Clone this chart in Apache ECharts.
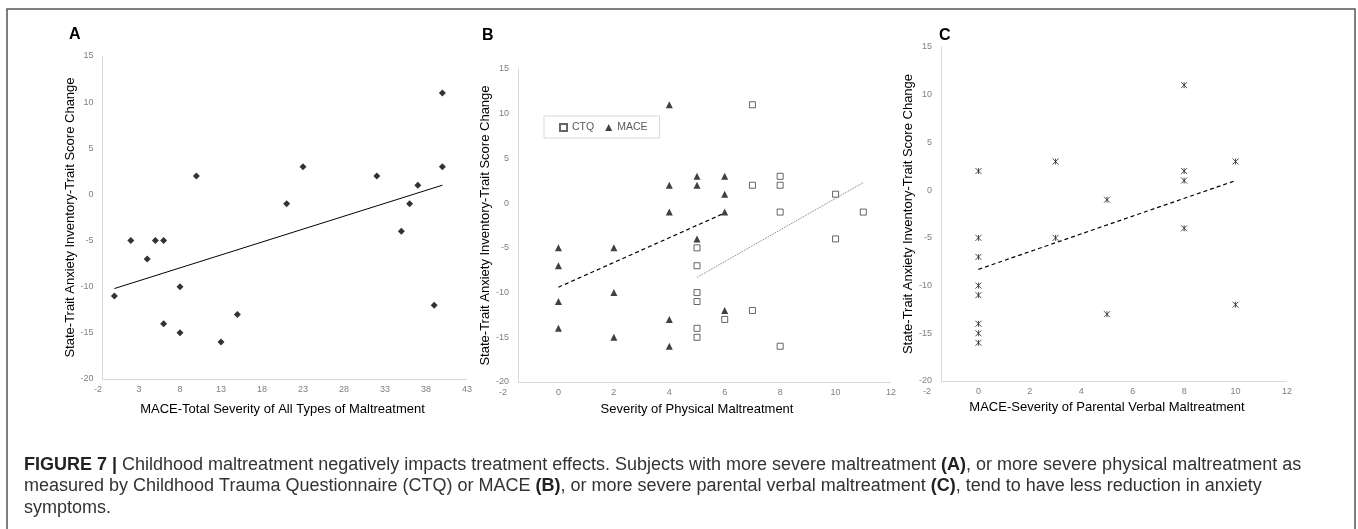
<!DOCTYPE html>
<html>
<head>
<meta charset="utf-8">
<script src="https://cdn.jsdelivr.net/npm/echarts@6/dist/echarts.min.js"></script>
<style>
  html, body { margin: 0; padding: 0; background: #fff; }
  #chart { width: 1358px; height: 529px; }
</style>
</head>
<body>
<div id="chart"></div>
<script>
// Panel A: MACE total severity vs STAI-trait change
const maceTotalX = [0, 2, 4, 5, 6, 6, 8, 8, 10, 13, 15, 21, 23, 32, 35, 36, 37, 39, 40, 40];
const staiA = [-11, -5, -7, -5, -5, -14, -10, -15, 2, -16, -13, -1, 3, 2, -4, -1, 1, -12, 11, 3];
const trendA = [[0, -10.2], [40, 1.0]];

// Panel B: physical maltreatment, CTQ and MACE
const ctqX = [5, 5, 5, 5, 5, 5, 6, 7, 7, 7, 8, 8, 8, 8, 10, 10, 11];
const ctqY = [-5, -7, -10, -11, -14, -15, -13, 11, 2, -12, 3, 2, -1, -16, 1, -4, -1];
const maceX = [0, 0, 0, 0, 2, 2, 2, 4, 4, 4, 4, 4, 5, 5, 5, 6, 6, 6, 6];
const maceY = [-5, -7, -11, -14, -5, -10, -15, 11, 2, -1, -13, -16, 3, 2, -4, 3, 1, -1, -12];
const trendMace = [[0, -9.4], [6, -1.1]];
const trendCtq = [[5, -8.3], [11, 2.3]];

// Panel C: parental verbal maltreatment
const verbalX = [0, 0, 0, 0, 0, 0, 0, 0, 3, 3, 5, 5, 8, 8, 8, 8, 10, 10];
const verbalY = [2, -5, -7, -10, -11, -14, -15, -16, 3, -5, -1, -13, 11, 2, 1, -4, 3, -12];
const trendC = [[0, -8.3], [10, 1.0]];

// axis ranges [min, max, interval]
const xRangeA = [-2, 43, 5];
const xRangeB = [-2, 12, 2];
const xRangeC = [-2, 12, 2];
const yRange = [-20, 15, 5];
const yAxisCross = -1.46; // where the vertical axis line sits on the x scale

const xTitles = [
  'MACE-Total Severity of All Types of Maltreatment',
  'Severity of Physical Maltreatment',
  'MACE-Severity of Parental Verbal Maltreatment'
];
const yTitle = 'State-Trait Anxiety Inventory-Trait Score Change';

const captionLines = [
  '{b|FIGURE 7 |} Childhood maltreatment negatively impacts treatment effects. Subjects with more severe maltreatment {b|(A)}, or more severe physical maltreatment as',
  'measured by Childhood Trauma Questionnaire (CTQ) or MACE {b|(B)}, or more severe parental verbal maltreatment {b|(C)}, tend to have less reduction in anxiety',
  'symptoms.'
];

const FONT = '"Liberation Sans", Arial, sans-serif';
const AXIS_GRAY = '#d9d9d9';
const LABEL_GRAY = '#7f7f7f';

const grids = [
  { left: 98, top: 56, width: 369, height: 323 },
  { left: 503, top: 69, width: 388, height: 313 },
  { left: 927, top: 47, width: 360, height: 334 }
];
const xRanges = [xRangeA, xRangeB, xRangeC];
const xNameGaps = [24, 21, 20];

const zip = (xs, ys) => xs.map((x, i) => [x, ys[i]]);

const xAxes = xRanges.map((r, i) => ({
  type: 'value',
  gridIndex: i,
  min: r[0],
  max: r[1],
  interval: r[2],
  axisLine: { show: false },
  axisTick: { show: false },
  splitLine: { show: false },
  axisLabel: { color: LABEL_GRAY, fontSize: 9, fontFamily: FONT, margin: 6 },
  name: xTitles[i],
  nameLocation: 'middle',
  nameGap: xNameGaps[i],
  nameTextStyle: { color: '#000', fontSize: 13, fontFamily: FONT }
}));

const yAxes = xRanges.map((r, i) => ({
  type: 'value',
  gridIndex: i,
  min: yRange[0],
  max: yRange[1],
  interval: yRange[2],
  offset: -((yAxisCross - r[0]) / (r[1] - r[0])) * grids[i].width,
  axisLine: { show: true, onZero: false, lineStyle: { color: AXIS_GRAY, width: 1 } },
  axisTick: { show: false },
  splitLine: { show: false },
  axisLabel: { color: LABEL_GRAY, fontSize: 9, fontFamily: FONT, margin: 9 },
  name: yTitle,
  nameLocation: 'middle',
  nameRotate: 90,
  nameGap: 22,
  nameTextStyle: { color: '#000', fontSize: 13, fontFamily: FONT }
}));

// horizontal axis line starting at the vertical axis
const baseLine = (r) => ({
  silent: true,
  symbol: 'none',
  label: { show: false },
  lineStyle: { color: AXIS_GRAY, type: 'solid', width: 1 },
  data: [[{ coord: [yAxisCross, yRange[0]] }, { coord: [r[1], yRange[0]] }]]
});

const starPath = 'path://M0,0L10,10M10,0L0,10M5,0L5,10';

const option = {
  animation: false,
  backgroundColor: '#fff',
  grid: grids,
  xAxis: xAxes,
  yAxis: yAxes,
  legend: {
    data: [
      { name: 'CTQ', icon: 'rect' },
      { name: 'MACE', icon: 'triangle' }
    ],
    left: 544,
    top: 116,
    orient: 'horizontal',
    borderColor: AXIS_GRAY,
    borderWidth: 1,
    padding: [6, 12, 5, 15],
    itemWidth: 7,
    itemHeight: 7,
    itemGap: 11,
    textStyle: { color: '#595959', fontSize: 10.5, fontFamily: FONT }
  },
  series: [
    {
      type: 'scatter', name: 'A', xAxisIndex: 0, yAxisIndex: 0,
      data: zip(maceTotalX, staiA),
      symbol: 'diamond', symbolSize: 7,
      itemStyle: { color: '#000' },
      markLine: baseLine(xRangeA)
    },
    {
      type: 'line', name: 'trendA', xAxisIndex: 0, yAxisIndex: 0,
      data: trendA, showSymbol: false,
      lineStyle: { color: '#000', width: 1 }
    },
    {
      type: 'scatter', name: 'CTQ', xAxisIndex: 1, yAxisIndex: 1,
      data: zip(ctqX, ctqY),
      symbol: 'rect', symbolSize: 6,
      itemStyle: { color: '#fff', borderColor: '#404040', borderWidth: 1 },
      markLine: baseLine(xRangeB)
    },
    {
      type: 'scatter', name: 'MACE', xAxisIndex: 1, yAxisIndex: 1,
      data: zip(maceX, maceY),
      symbol: 'triangle', symbolSize: 7,
      itemStyle: { color: '#111' }
    },
    {
      type: 'line', name: 'trendMace', xAxisIndex: 1, yAxisIndex: 1,
      data: trendMace, showSymbol: false,
      lineStyle: { color: '#000', width: 1.2, type: [4, 3] }
    },
    {
      type: 'line', name: 'trendCtq', xAxisIndex: 1, yAxisIndex: 1,
      data: trendCtq, showSymbol: false,
      lineStyle: { color: '#777', width: 1, type: [1, 1] }
    },
    {
      type: 'scatter', name: 'C', xAxisIndex: 2, yAxisIndex: 2,
      data: zip(verbalX, verbalY),
      symbol: starPath, symbolSize: 6,
      itemStyle: { color: 'rgba(0,0,0,0)', borderColor: '#222', borderWidth: 1 },
      markLine: baseLine(xRangeC)
    },
    {
      type: 'line', name: 'trendC', xAxisIndex: 2, yAxisIndex: 2,
      data: trendC, showSymbol: false,
      lineStyle: { color: '#000', width: 1.2, type: [4, 3] }
    }
  ],
  graphic: [
    {
      type: 'rect', silent: true,
      shape: { x: 7, y: 9, width: 1348, height: 540 },
      style: { fill: 'none', stroke: '#555', lineWidth: 1.5 }
    },
    { type: 'text', left: 69, top: 27, style: { text: 'A', font: 'bold 16px ' + FONT, fill: '#000' } },
    { type: 'text', left: 482, top: 28, style: { text: 'B', font: 'bold 16px ' + FONT, fill: '#000' } },
    { type: 'text', left: 939, top: 28, style: { text: 'C', font: 'bold 16px ' + FONT, fill: '#000' } },
    {
      type: 'text', left: 24, top: 454,
      style: {
        text: captionLines.join('\n'),
        fontSize: 18,
        fontFamily: FONT,
        fill: '#333',
        lineHeight: 21.5,
        rich: {
          b: { fontSize: 18, fontFamily: FONT, fontWeight: 'bold', fill: '#222', lineHeight: 21.5 }
        }
      }
    }
  ]
};

const chart = echarts.init(document.getElementById('chart'));
chart.setOption(option);
</script>
</body>
</html>
